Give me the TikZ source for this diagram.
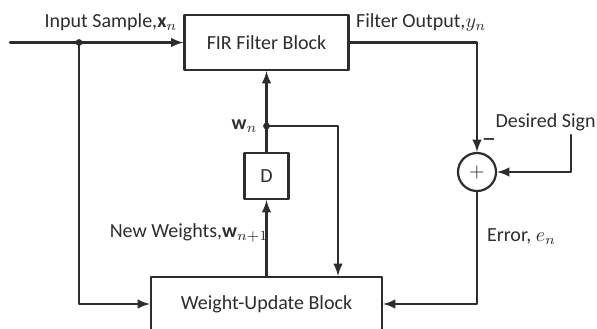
\documentclass[tikz,border=0pt]{standalone}
\usepackage{fontspec}
\setmainfont{Carlito}
\usetikzlibrary{positioning}

\definecolor{inkgray}{RGB}{45,45,45}

\begin{document}
\begin{tikzpicture}[x=0.5pt,y=-0.5pt,line cap=round,line join=round,
    every node/.style={text=inkgray},
    block/.style={draw=inkgray,line width=1.1pt,fill=white,inner sep=2pt},
    wire/.style={draw=inkgray,line width=1.1pt},
    flow/.style={wire,-latex}]
        \useasboundingbox (0,0) rectangle (597,328);

        % Bloques
        \node[block,minimum width=82pt,minimum height=27.5pt] (fir) at (266.5,42.5) {FIR Filter Block};
        \node[block,minimum width=115.5pt,minimum height=27pt] (wub) at (266.5,304) {Weight-Update Block};
        \node[block,minimum width=22pt,minimum height=23pt] (delay) at (266.5,176) {D};
        \node[draw=inkgray,line width=1.1pt,circle,minimum size=19pt,inner sep=0pt] (sum) at (477,172) {$+$};

        % Puntos de conexión
        \coordinate (in) at (10,42.5);
        \coordinate (indot) at (79,42.5);
        \coordinate (wdot) at (266.5,126);
        \coordinate (wright) at (338,126);
        \coordinate (desired) at (571,135);

        % Señales
        \draw[flow] (in) -- (fir.west);
        \draw[flow] (indot) |- (wub.west);
        \draw[flow] (fir.east) -| (sum.north);
        \draw[flow] (desired) |- (sum.east);
        \draw[flow] (sum.south) |- (wub.east);
        \draw[flow] (wub.north) -- (delay.south);
        \draw[wire] (delay.north) -- (wdot);
        \draw[flow] (wdot) -- (fir.south);
        \draw[flow] (wdot) -- (wright) -- (wright |- wub.north);
        \fill[inkgray] (indot) circle (3.4);
        \fill[inkgray] (wdot) circle (3.4);

        % Etiquetas
        \node[anchor=south] (inlab) at (111,38) {Input Sample,$\mathbf{x}_n$};
        \node[anchor=south west] (outlab) at (349,38) {Filter Output,$y_n$};
        \node[left=1pt of wdot] (wlab) {$\mathbf{w}_n$};
        \node (newlab) at (189,233) {New Weights,$\mathbf{w}_{n+1}$};
        \node[anchor=west] (errlab) at (480,237) {Error, $e_n$};
        \node[anchor=east,inner sep=0pt] (deslab) at (596,122) {Desired Sign};
        \node[inner sep=0pt,font=\Large] (minus) at (489,143) {--};
    \end{tikzpicture}
\end{document}
